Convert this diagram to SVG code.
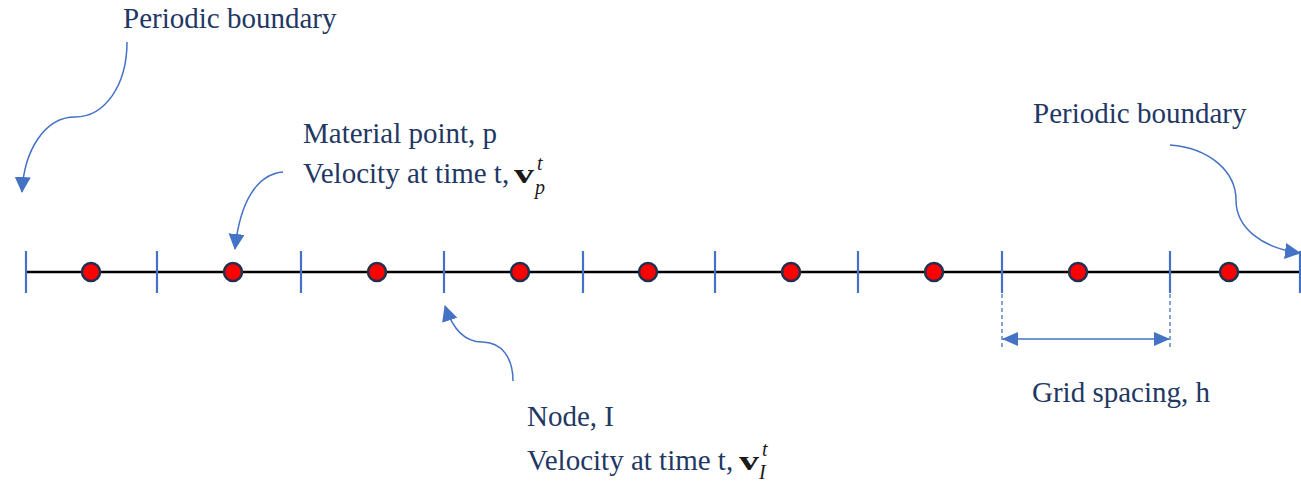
<svg xmlns="http://www.w3.org/2000/svg" width="1301" height="484" viewBox="0 0 1301 484">
<style>
.t{font-family:"Liberation Serif","Times New Roman",serif;font-size:29px;fill:#1F3864}
.vb{font-family:"Liberation Serif","Times New Roman",serif;font-weight:bold;font-size:27px;fill:#1a1a1a}
.mi{font-family:"Liberation Serif","Times New Roman",serif;font-style:italic;font-size:20px;fill:#1a1a1a}
.tick{stroke:#4472C4;stroke-width:2.2}
.dot{fill:#FF0000;stroke:#1F3050;stroke-width:2.5}
.conn{fill:none;stroke:#4472C4;stroke-width:1.5}
.dash{stroke:#4472C4;stroke-width:1.3;stroke-dasharray:4,3}
</style>
<defs>
<marker id="ah" markerUnits="userSpaceOnUse" markerWidth="18" markerHeight="18" refX="15" refY="8" orient="auto">
<path d="M0,0 L16,8 L0,16 Z" fill="#4472C4"/>
</marker>
<marker id="ah2" markerUnits="userSpaceOnUse" markerWidth="18" markerHeight="16" refX="15" refY="7" orient="auto-start-reverse">
<path d="M0,0 L16,7 L0,14 Z" fill="#4472C4"/>
</marker>
</defs>
<g id="axis">
<line x1="26" y1="272" x2="1301" y2="272" stroke="#000" stroke-width="2.6"/>
<line class="tick" x1="26" y1="251" x2="26" y2="293"/>
<line class="tick" x1="157" y1="251" x2="157" y2="293"/>
<line class="tick" x1="301" y1="251" x2="301" y2="293"/>
<line class="tick" x1="444" y1="251" x2="444" y2="293"/>
<line class="tick" x1="583" y1="251" x2="583" y2="293"/>
<line class="tick" x1="715" y1="251" x2="715" y2="293"/>
<line class="tick" x1="858" y1="251" x2="858" y2="293"/>
<line class="tick" x1="1002" y1="251" x2="1002" y2="293"/>
<line class="tick" x1="1170" y1="251" x2="1170" y2="293"/>
<line class="tick" x1="1300" y1="251" x2="1300" y2="293"/>
</g>
<g id="points">
<circle class="dot" cx="91" cy="272" r="9"/>
<circle class="dot" cx="233" cy="272" r="9"/>
<circle class="dot" cx="377" cy="272" r="9"/>
<circle class="dot" cx="520" cy="272" r="9"/>
<circle class="dot" cx="648" cy="272" r="9"/>
<circle class="dot" cx="791" cy="272" r="9"/>
<circle class="dot" cx="934" cy="272" r="9"/>
<circle class="dot" cx="1078" cy="272" r="9"/>
<circle class="dot" cx="1229" cy="272" r="9"/>
</g>
<g id="connectors">
<path class="conn" d="M127,42 C127,85 105,117 75,117 C45,117 24,150 22,192" marker-end="url(#ah)"/>
<path class="conn" d="M283,172 C258,174 240,200 235,249" marker-end="url(#ah)"/>
<path class="conn" d="M513,381 C513,358 502,342 482,342 C466,342 453,330 445,306" marker-end="url(#ah)"/>
<path class="conn" d="M1170,145 C1210,148 1236,172 1236,200 C1236,228 1262,248 1300,253" marker-end="url(#ah)"/>
</g>
<g id="dimension">
<line class="dash" x1="1002" y1="294" x2="1002" y2="348"/>
<line class="dash" x1="1170" y1="294" x2="1170" y2="348"/>
<line class="conn" x1="1003" y1="339" x2="1169" y2="339" marker-start="url(#ah2)" marker-end="url(#ah2)"/>
</g>
<g id="label-left-boundary"><text class="t" x="123" y="28">Periodic boundary</text></g>
<g id="label-right-boundary"><text class="t" x="1033" y="123">Periodic boundary</text></g>
<g id="label-material">
<text class="t" x="303" y="143">Material point, p</text>
<text class="t" x="303" y="183">Velocity at time t,</text>
<text class="vb" x="514" y="183" textLength="20" lengthAdjust="spacingAndGlyphs">v</text>
<text class="mi" x="537" y="170">t</text>
<text class="mi" x="535" y="194">p</text>
</g>
<g id="label-node">
<text class="t" x="527" y="426">Node, I</text>
<text class="t" x="527" y="470">Velocity at time t,</text>
<text class="vb" x="739" y="470" textLength="20" lengthAdjust="spacingAndGlyphs">v</text>
<text class="mi" x="762" y="456">t</text>
<text class="mi" x="759" y="479">I</text>
</g>
<g id="label-grid"><text class="t" x="1032" y="402">Grid spacing, h</text></g>
</svg>
